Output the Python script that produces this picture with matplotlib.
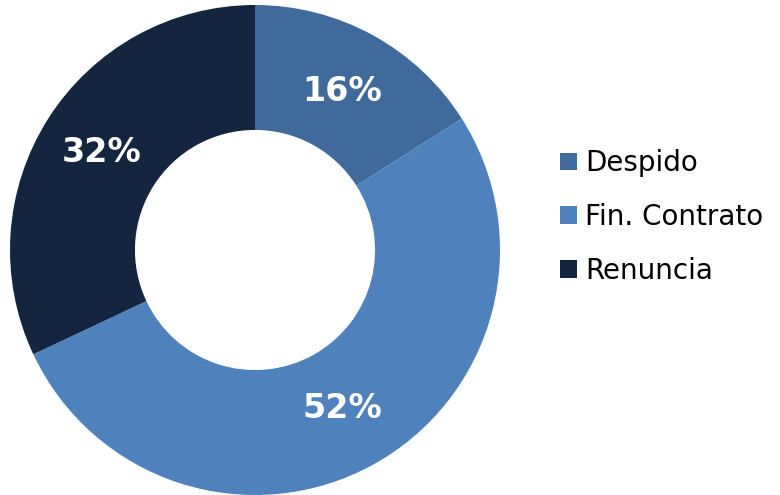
import matplotlib.pyplot as plt
from matplotlib.patches import Patch

categories = ['Despido', 'Fin. Contrato', 'Renuncia']
values = [16, 52, 32]
colors = ['#416A9C', '#4F81BD', '#14253F']

fig = plt.figure(figsize=(7.8, 4.95), dpi=100)
ax = fig.add_axes([10/780, 0/495, 490/780, 490/495])

wedges, texts, autotexts = ax.pie(values, colors=colors, startangle=90, counterclock=False,
                                  radius=1, autopct='%1.0f%%', pctdistance=0.74,
                                  wedgeprops=dict(width=0.51, edgecolor='none'),
                                  textprops=dict(color='white', fontsize=24, fontweight='bold'))
ax.set_xlim(-1, 1)
ax.set_ylim(-1, 1)
ax.set_aspect('equal')
ax.axis('off')

handles = [Patch(facecolor=c, edgecolor='none') for c in colors]
fig.legend(handles, categories, loc='center left', bbox_to_anchor=(541/780, 1 - 217/495),
           frameon=False, fontsize=20, handlelength=0.6, handleheight=0.6,
           handletextpad=0.3, labelspacing=0.92, borderpad=0.2)

fig.savefig('out.png', dpi=100)
